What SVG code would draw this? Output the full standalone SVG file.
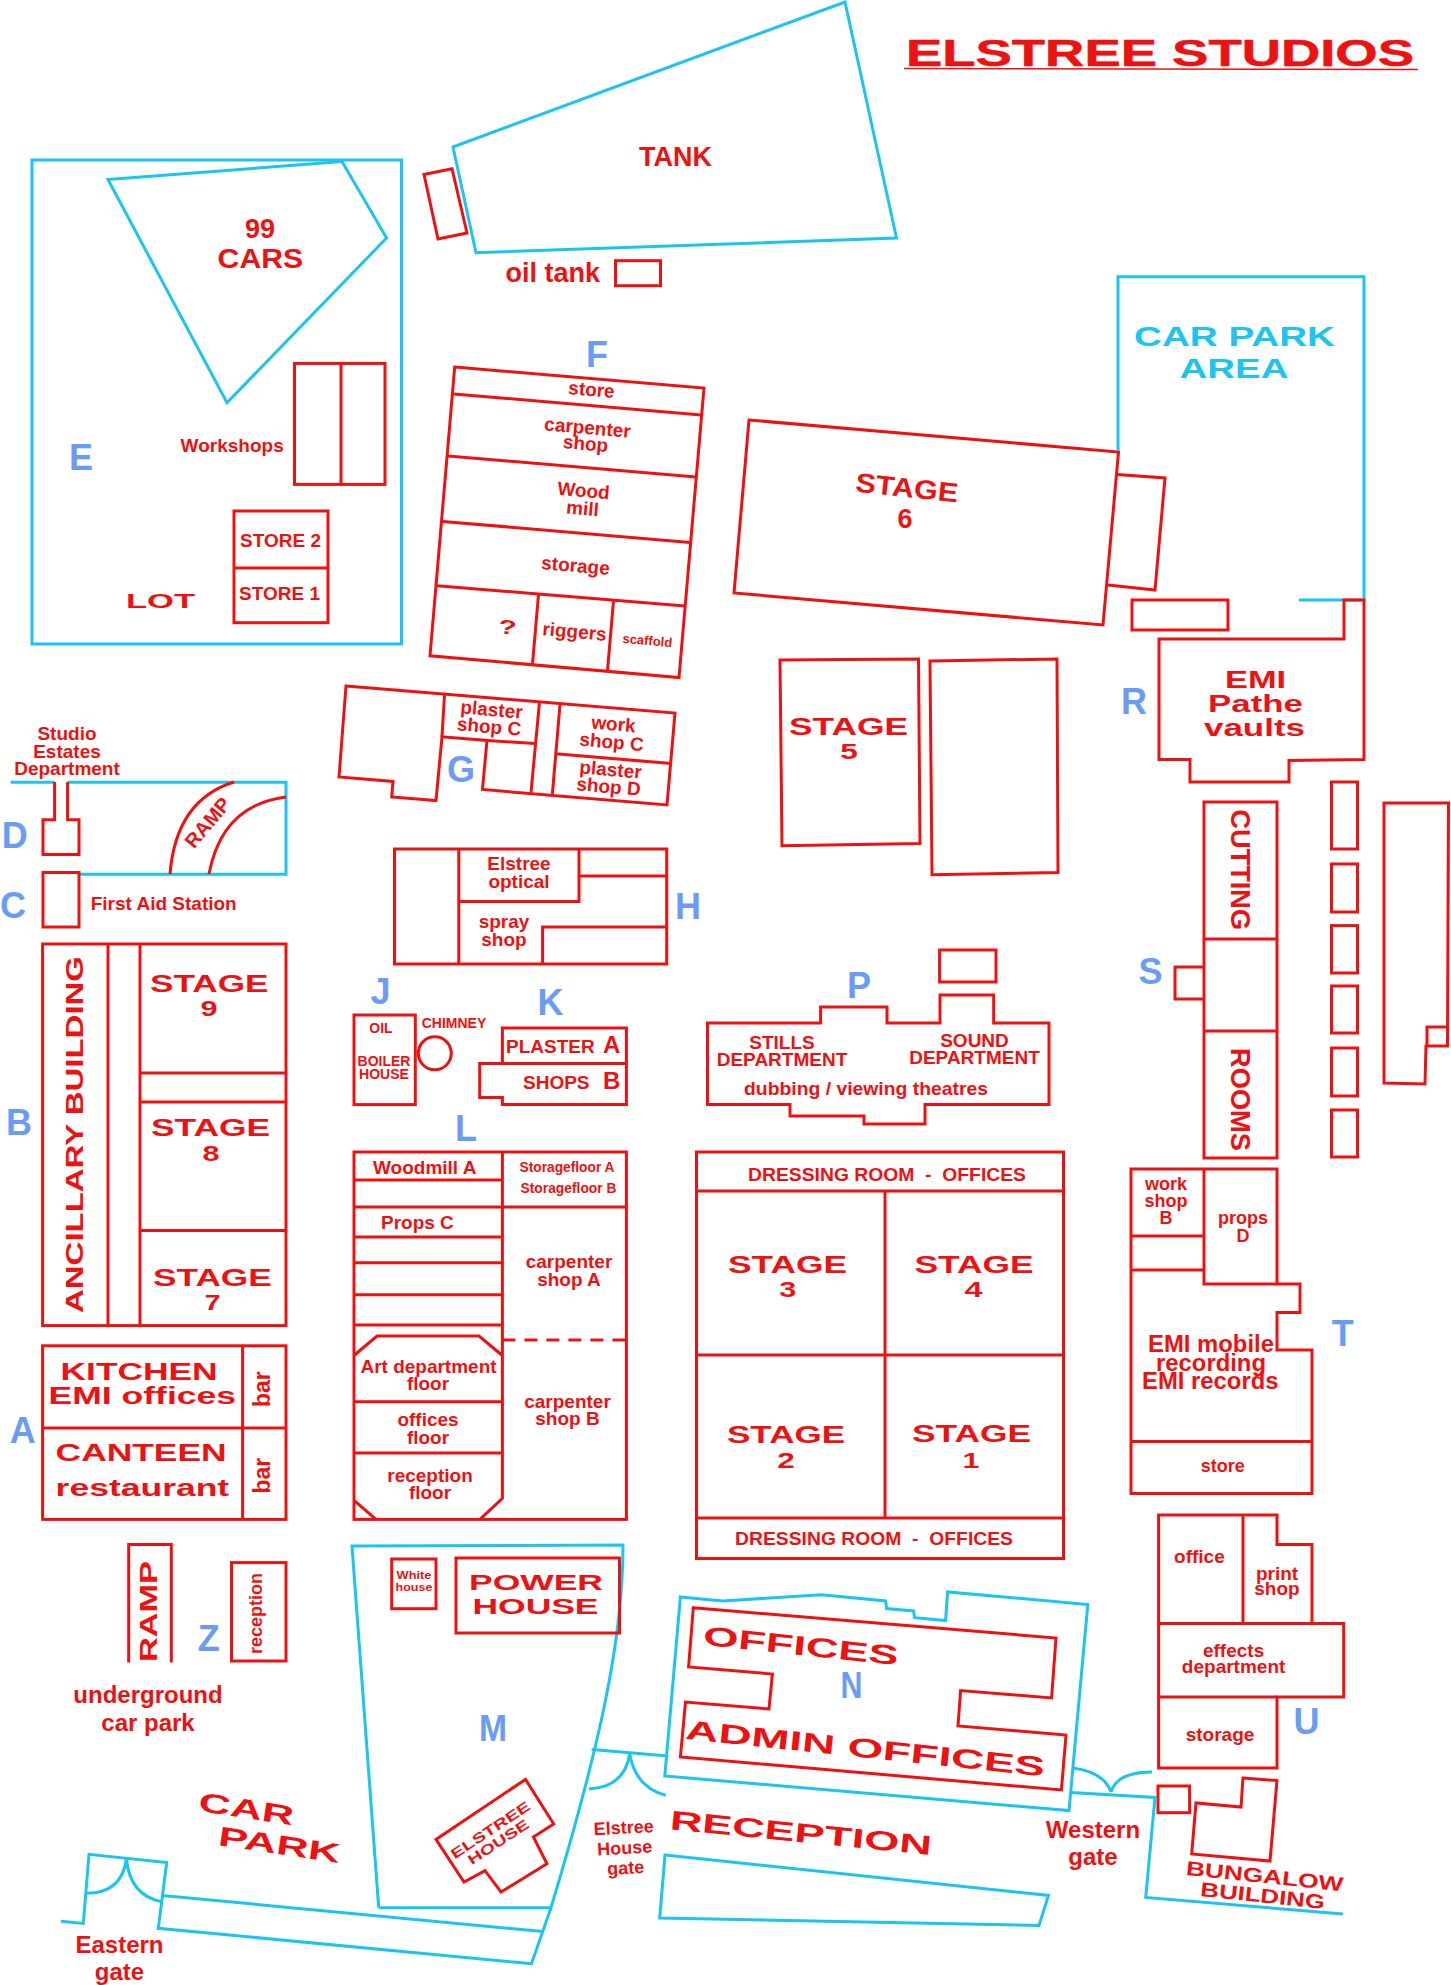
<svg xmlns="http://www.w3.org/2000/svg" width="1451" height="1985" viewBox="0 0 1451 1985">
<style>
.r{fill:none;stroke:#ee1111;stroke-width:3;stroke-linejoin:miter}
.b{fill:none;stroke:#1cc4f0;stroke-width:3;stroke-linejoin:miter}
text{font-family:"Liberation Sans",Arial,sans-serif;font-weight:700;fill:#ee1111}
.m{text-anchor:middle}
.l{fill:#6a9cf5;font-size:36px;text-anchor:middle}
.c{fill:#1cc4f0}
.f13{font-size:13px}.f14{font-size:14px}.f15{font-size:15px}.f18{font-size:18px}.f19{font-size:19px}.f20{font-size:20px}.f22{font-size:22px}.f23{font-size:23px}.f24{font-size:24px}.f27{font-size:27px}
</style>
<rect width="1451" height="1985" fill="#fff"/>
<g id="title">
<text x="906" y="65.6" style="font-size:36px;stroke:#ee1111;stroke-width:.5" textLength="508" lengthAdjust="spacingAndGlyphs">ELSTREE STUDIOS</text>
<line x1="904" y1="68.5" x2="1418" y2="69.5" stroke="#ee1111" stroke-width="1.5"/>
</g>
<g id="E">
<rect class="b" x="32" y="160" width="369.5" height="484"/>
<polygon class="b" points="108,179.5 342,161.6 386.6,238 227,402.7"/>
<text class="f27 m" x="260" y="238">99</text>
<text class="f27" x="217.6" y="268" textLength="85.6" lengthAdjust="spacingAndGlyphs">CARS</text>
<text class="l" x="81" y="469.6">E</text>
<rect class="r" x="294.5" y="363.4" width="90.5" height="121"/><line class="r" x1="341" y1="363.4" x2="341" y2="484.4"/>
<text class="f19" x="180.6" y="452">Workshops</text>
<rect class="r" x="234" y="511" width="94" height="111.7"/><line class="r" x1="234" y1="568" x2="328" y2="568"/>
<text class="f19" x="240" y="547">STORE 2</text>
<text class="f19" x="239" y="600">STORE 1</text>
<text class="f20" x="126" y="608" textLength="69" lengthAdjust="spacingAndGlyphs">LOT</text>
</g>
<g id="tank">
<polygon class="r" points="424,174.5 452,168.7 467,233 438,239"/>
<polygon class="b" points="453,147 845,2 896.5,238 476,252.7"/>
<text class="f27" x="639" y="166">TANK</text>
<text class="f27" x="505.6" y="282">oil tank</text>
<rect class="r" x="615.5" y="260.7" width="45" height="25"/>
</g>
<g id="F">
<polygon class="r" points="454.7,367 704,388 679,677.6 430,655.8"/>
<path class="r" d="M453.7,394L701,415M448,456L696,477M442.6,521.4L690,542.4M437,585.7L685,606M538.5,594.6L532.5,664M613.5,601L607.5,670.5"/>
<text class="l" x="597" y="367">F</text>
<text class="f19 m" x="591" y="396" transform="rotate(5 591 396)">store</text>
<text class="f19 m" x="587" y="434" transform="rotate(5 587 434)">carpenter</text>
<text class="f19 m" x="585" y="450" transform="rotate(5 585 450)">shop</text>
<text class="f19 m" x="583" y="497" transform="rotate(5 583 497)">Wood</text>
<text class="f19 m" x="582" y="515" transform="rotate(5 582 515)">mill</text>
<text class="f19 m" x="575" y="572" transform="rotate(5 575 572)">storage</text>
<text class="f20 m" x="507" y="634" transform="rotate(5 507 634)" textLength="18" lengthAdjust="spacingAndGlyphs">?</text>
<text class="f19 m" x="574" y="638" transform="rotate(5 574 638)">riggers</text>
<text class="f13 m" x="647" y="645" transform="rotate(5 647 645)">scaffold</text>
</g>
<g id="stage6" transform="translate(-1 0)">
<polygon class="r" points="750,420 1119.5,452 1104,625 735,593"/>
<polyline class="r" points="1118,474.5 1166,478 1156,590 1109,585"/>
<text class="f27 m" x="907" y="497" transform="rotate(6 907 497)" textLength="103" lengthAdjust="spacingAndGlyphs">STAGE</text>
<text class="f27 m" x="906" y="528">6</text>
</g>
<g id="carpark-area" transform="translate(-1 0)">
<polyline class="b" points="1119,451 1119,276.8 1365,276.8 1365,600 1300,600"/>
<text class="f27 c" x="1135" y="346.4" textLength="201" lengthAdjust="spacingAndGlyphs">CAR PARK</text>
<text class="f27 c" x="1180.5" y="377.7" textLength="109" lengthAdjust="spacingAndGlyphs">AREA</text>
<rect class="r" x="1133" y="600" width="96" height="30"/>
</g>
<g id="R" transform="translate(-1 0)">
<polygon class="r" points="1345,600 1365,600 1365,759.5 1290,760.4 1290,782 1191,782 1191,759.5 1160,759.5 1160,639 1345,639"/>
<text class="f23" x="1226" y="687.7" textLength="61" lengthAdjust="spacingAndGlyphs">EMI</text>
<text class="f23" x="1209" y="711.8" textLength="95" lengthAdjust="spacingAndGlyphs">Pathe</text>
<text class="f23" x="1205" y="736" textLength="101" lengthAdjust="spacingAndGlyphs">vaults</text>
<text class="l" x="1135" y="713.6">R</text>
</g>
<g id="stage5" transform="translate(-1 0)">
<polygon class="r" points="781,660 919.5,659 921,843.5 783,845.7"/>
<polygon class="r" points="931,661 1058,659 1059,872.5 933,874.7"/>
<text class="f23" x="790" y="734.5" textLength="119" lengthAdjust="spacingAndGlyphs">STAGE</text>
<text class="f22 m" x="850" y="759" textLength="17.5" lengthAdjust="spacingAndGlyphs">5</text>
</g>
<g id="S" transform="translate(-1 0)">
<rect class="r" x="1205" y="802" width="73" height="356"/>
<path class="r" d="M1205,939H1278M1205,1031H1278M1205,967H1176V999H1205"/>
<text class="l" x="1151.5" y="983.6">S</text>
<text class="f27" transform="translate(1232,809.5) rotate(90)" textLength="120.5" lengthAdjust="spacingAndGlyphs">CUTTING</text>
<text class="f27" transform="translate(1232,1048) rotate(90)" textLength="103" lengthAdjust="spacingAndGlyphs">ROOMS</text>
</g>
<g id="east-blocks" transform="translate(-1 0)">
<rect class="r" x="1332.5" y="782" width="26" height="67"/>
<rect class="r" x="1332.5" y="864" width="26" height="48"/>
<rect class="r" x="1332.5" y="925.6" width="26" height="47.4"/>
<rect class="r" x="1332.5" y="986" width="26" height="47"/>
<rect class="r" x="1332.5" y="1048" width="26" height="48"/>
<rect class="r" x="1332.5" y="1110" width="26" height="47"/>
<polygon class="r" points="1385,803 1449.5,803 1448.5,1046 1427,1046 1426,1084 1385,1083"/>
<polyline class="r" points="1428,1046 1428,1027 1448.5,1027"/>
</g>
<g id="P" transform="translate(-1 0)">
<polygon class="r" points="708.5,1023 821.6,1023 821.6,1007 888,1007 888,1023 941,1023 941,995 994.7,995 994.7,1023 1050,1023 1050,1104.6 926,1104.6 926,1124 865,1124 865,1116 791,1116 791,1104.6 708.5,1104.6"/>
<rect class="r" x="940.6" y="950" width="56.4" height="32"/>
<text class="l" x="860" y="998">P</text>
<text class="f19 m" x="783" y="1049">STILLS</text>
<text class="f19 m" x="783" y="1066">DEPARTMENT</text>
<text class="f19 m" x="975.5" y="1046.6">SOUND</text>
<text class="f19 m" x="975.5" y="1063.5">DEPARTMENT</text>
<text class="f19" x="745" y="1095" textLength="244" lengthAdjust="spacingAndGlyphs">dubbing / viewing theatres</text>
</g>
<g id="stages1-4" transform="translate(-1 0)">
<rect class="r" x="697.5" y="1152" width="367" height="406.5"/>
<path class="r" d="M697.5,1191H1064.5M697.5,1355H1064.5M697.5,1518H1064.5M886,1191V1518"/>
<text class="f19" x="749" y="1181" textLength="278" lengthAdjust="spacingAndGlyphs" xml:space="preserve">DRESSING ROOM  -  OFFICES</text>
<text class="f19" x="736" y="1545" textLength="278" lengthAdjust="spacingAndGlyphs" xml:space="preserve">DRESSING ROOM  -  OFFICES</text>
<text class="f23" x="729" y="1273" textLength="119" lengthAdjust="spacingAndGlyphs">STAGE</text>
<text class="f22 m" x="788.7" y="1297" textLength="17" lengthAdjust="spacingAndGlyphs">3</text>
<text class="f23" x="915.5" y="1273" textLength="119" lengthAdjust="spacingAndGlyphs">STAGE</text>
<text class="f22 m" x="974.5" y="1297" textLength="18" lengthAdjust="spacingAndGlyphs">4</text>
<text class="f23" x="728" y="1443" textLength="118" lengthAdjust="spacingAndGlyphs">STAGE</text>
<text class="f22 m" x="787" y="1468" textLength="17.5" lengthAdjust="spacingAndGlyphs">2</text>
<text class="f23" x="913" y="1442" textLength="119" lengthAdjust="spacingAndGlyphs">STAGE</text>
<text class="f22 m" x="972" y="1467.5" textLength="17" lengthAdjust="spacingAndGlyphs">1</text>
</g>
<g id="T" transform="translate(-1 0)">
<polygon class="r" points="1132,1169 1278,1169 1278,1284 1301,1284 1301,1312.6 1278,1312.6 1278,1350 1313,1350 1313,1493.5 1132,1493.5"/>
<path class="r" d="M1132,1441.6H1313M1132,1236H1205M1132,1270H1205M1205,1169V1284H1278"/>
<text class="l" x="1343.8" y="1346">T</text>
<text class="f18 m" x="1167" y="1190">work</text>
<text class="f18 m" x="1167" y="1207">shop</text>
<text class="f18 m" x="1167" y="1224">B</text>
<text class="f18 m" x="1244" y="1224">props</text>
<text class="f18 m" x="1244" y="1242">D</text>
<text class="f23" x="1149" y="1351.5" textLength="126" lengthAdjust="spacingAndGlyphs">EMI mobile</text>
<text class="f23" x="1157" y="1371" textLength="110" lengthAdjust="spacingAndGlyphs">recording</text>
<text class="f23" x="1143" y="1389" textLength="136.5" lengthAdjust="spacingAndGlyphs">EMI records</text>
<text class="f18 m" x="1223.7" y="1472">store</text>
</g>
<g id="U" transform="translate(-1 0)">
<polygon class="r" points="1159.6,1515 1278,1515 1278,1544.5 1313,1544.5 1313,1623.5 1344.7,1623.5 1344.7,1697 1278,1697 1278,1768 1159.6,1768"/>
<path class="r" d="M1244,1515V1623.5M1159.6,1623.5H1313M1159.6,1697H1278"/>
<text class="l" x="1307.4" y="1734">U</text>
<text class="f19 m" x="1200.4" y="1563.4">office</text>
<text class="f19 m" x="1278" y="1580">print</text>
<text class="f19 m" x="1278" y="1595">shop</text>
<text class="f19 m" x="1234.6" y="1657">effects</text>
<text class="f19 m" x="1234.6" y="1673">department</text>
<text class="f19 m" x="1221" y="1741">storage</text>
</g>
<g id="bungalow" transform="translate(-1 0)">
<rect class="r" x="1159" y="1786" width="31.6" height="26.7"/>
<polygon class="r" points="1244,1778 1278,1780.6 1271,1861 1192.7,1854 1197,1803 1242,1807"/>
<polyline class="b" points="1071.7,1792.5 1156,1797.5 1146.7,1897.5 1344,1914"/>
<path class="b" d="M1074,1768Q1105,1772 1112,1792M1112,1792Q1118,1772 1153,1772"/>
<text class="f20 m" x="1265" y="1883" transform="rotate(6 1265 1883)" textLength="158" lengthAdjust="spacingAndGlyphs">BUNGALOW</text>
<text class="f20 m" x="1263" y="1902.5" transform="rotate(6 1263 1902.5)" textLength="125" lengthAdjust="spacingAndGlyphs">BUILDING</text>
<text class="f24 m" x="1094" y="1838">Western</text>
<text class="f24 m" x="1094" y="1864.5">gate</text>
</g>
<g id="N" transform="translate(-1 0)">
<polygon class="b" points="681.4,1597 724,1601 822.5,1594.7 886.6,1601 887.6,1608.6 914.5,1611 915.6,1617.7 946.6,1620.6 948.6,1592 1088.8,1604.5 1070,1810.6 665.8,1776"/>
<polygon class="r" points="694.3,1607.8 1057,1638 1052.6,1698 961.6,1690.5 959,1726 1067,1735 1062.4,1790 681.4,1757 686.5,1702 770,1709 773.4,1674 689.6,1667"/>
<text class="f27 m" x="801" y="1655" transform="rotate(6 801 1655)" textLength="196" lengthAdjust="spacingAndGlyphs">OFFICES</text>
<text class="f27 m" x="865.4" y="1757.6" transform="rotate(6 865.4 1757.6)" textLength="361" lengthAdjust="spacingAndGlyphs">ADMIN OFFICES</text>
<text class="l" x="852.5" y="1698" textLength="22" lengthAdjust="spacingAndGlyphs">N</text>
</g>
<g id="reception">
<polygon class="b" points="665,1855 1048.5,1895.4 1039,1925.4 659.7,1918"/>
<text class="f27 m" x="800" y="1842" transform="rotate(5.6 800 1842)" textLength="263" lengthAdjust="spacingAndGlyphs">RECEPTION</text>
<text class="f18 m" x="624" y="1833.7" transform="rotate(-3 624 1833.7)">Elstree</text>
<text class="f18 m" x="625" y="1854" transform="rotate(-3 625 1854)">House</text>
<text class="f18 m" x="626" y="1874" transform="rotate(-3 626 1874)">gate</text>
<line class="b" x1="591.7" y1="1749.4" x2="668" y2="1756"/>
<path class="b" d="M589,1789Q625,1787 629.7,1753.5M629.7,1753.5Q635,1787 665.8,1795.4"/>
</g>
<g id="A">
<rect class="r" x="42.6" y="1345.8" width="243.4" height="173.6"/>
<path class="r" d="M42.6,1428H286M242.6,1345.8V1519.4"/>
<text class="l" x="22.7" y="1443">A</text>
<text class="f23" x="60.6" y="1380" textLength="157" lengthAdjust="spacingAndGlyphs">KITCHEN</text>
<text class="f23" x="48.6" y="1404" textLength="187.5" lengthAdjust="spacingAndGlyphs">EMI offices</text>
<text class="f23" x="55.6" y="1461" textLength="171" lengthAdjust="spacingAndGlyphs">CANTEEN</text>
<text class="f23" x="55.6" y="1496" textLength="173.6" lengthAdjust="spacingAndGlyphs">restaurant</text>
<text class="f23" transform="translate(270,1407) rotate(-90)">bar</text>
<text class="f23" transform="translate(270,1493.5) rotate(-90)">bar</text>
</g>
<g id="Z">
<polyline class="r" points="128.7,1662.5 128.7,1544.5 171.3,1544.5 171.3,1662.5"/>
<text class="f24" transform="translate(157.4,1662) rotate(-90)" textLength="101" lengthAdjust="spacingAndGlyphs">RAMP</text>
<rect class="r" x="231.5" y="1562.6" width="54.5" height="98.4"/>
<text class="f18 m" transform="translate(262,1613.5) rotate(-90)">reception</text>
<text class="l" x="208.7" y="1651.4">Z</text>
<text class="f24 m" x="148" y="1703">underground</text>
<text class="f24 m" x="148" y="1731">car park</text>
</g>
<g id="M">
<path class="b" d="M378.7,1907.7L352,1546L623,1545C623,1640 600,1745 551,1907.7L531.5,1963.7L158.3,1928.3L166.7,1862.5L89,1854.3L83.3,1923.4L61,1921.3M378.7,1907.7H551M162,1895.4L543,1931.6"/>
<path class="b" d="M126.4,1859Q122,1893 86.6,1893.3M126.4,1859Q130,1895 161,1901.6"/>
<rect class="r" x="391.7" y="1559" width="44.3" height="49.7"/>
<text class="f13 m" x="414" y="1579.4" style="font-size:11px" textLength="35" lengthAdjust="spacingAndGlyphs">White</text>
<text class="f13 m" x="414" y="1590.5" style="font-size:11px" textLength="37" lengthAdjust="spacingAndGlyphs">house</text>
<rect class="r" x="456" y="1558" width="163.5" height="75"/>
<text class="f22" x="469" y="1589.7" textLength="134" lengthAdjust="spacingAndGlyphs">POWER</text>
<text class="f22" x="472.5" y="1613.6" textLength="126" lengthAdjust="spacingAndGlyphs">HOUSE</text>
<text class="l" x="493" y="1741" textLength="28" lengthAdjust="spacingAndGlyphs">M</text>
<polygon class="r" points="525.5,1779.4 553.7,1824 533.4,1837 547,1863.7 501,1892 485,1870.7 464,1882 436,1839.4"/>
<text class="f14 m" x="493" y="1834" transform="rotate(-33.6 493 1834)" textLength="92" lengthAdjust="spacingAndGlyphs">ELSTREE</text>
<text class="f14 m" x="501" y="1846" transform="rotate(-33.6 501 1846)" textLength="70" lengthAdjust="spacingAndGlyphs">HOUSE</text>
<text class="f27 m" x="245" y="1818" transform="rotate(8.7 245 1818)" textLength="96" lengthAdjust="spacingAndGlyphs">CAR</text>
<text class="f27 m" x="278" y="1854" transform="rotate(8.5 278 1854)" textLength="123" lengthAdjust="spacingAndGlyphs">PARK</text>
<text class="f24 m" x="119.5" y="1953">Eastern</text>
<text class="f24 m" x="119.5" y="1980">gate</text>
</g>
<g id="L">
<rect class="r" x="354" y="1152" width="272.4" height="367.4"/>
<path class="r" d="M502.4,1152V1498.4L480,1519.4M354,1180H502.4M354,1207H626.4M354,1237H502.4M354,1262.7H502.4M354,1294.8H502.4M354,1325H502.4M354,1355.5L377,1336H479L502.4,1355.5M354,1401.7H502.4M354,1453H502.4M354,1500.4L376,1519.4"/>
<line class="r" x1="502.4" y1="1340" x2="626.4" y2="1340" stroke-dasharray="13 9"/>
<text class="l" x="466" y="1140.8">L</text>
<text class="f19" x="373" y="1174">Woodmill A</text>
<text class="f14" x="519.5" y="1172" textLength="95" lengthAdjust="spacingAndGlyphs">Storagefloor A</text>
<text class="f14" x="520.5" y="1193" textLength="96" lengthAdjust="spacingAndGlyphs">Storagefloor B</text>
<text class="f19" x="381" y="1229">Props C</text>
<text class="f19 m" x="569" y="1268">carpenter</text>
<text class="f19 m" x="569" y="1286">shop A</text>
<text class="f19 m" x="567.5" y="1408">carpenter</text>
<text class="f19 m" x="567.5" y="1424.5">shop B</text>
<text class="f19 m" x="428.5" y="1373">Art department</text>
<text class="f19 m" x="428" y="1390">floor</text>
<text class="f19 m" x="428" y="1426.4">offices</text>
<text class="f19 m" x="428" y="1444">floor</text>
<text class="f19 m" x="430" y="1482">reception</text>
<text class="f19 m" x="430" y="1499">floor</text>
</g>
<g id="J">
<text class="l" x="380.6" y="1004">J</text>
<rect class="r" x="354" y="1015" width="61.3" height="89.6"/>
<text class="f14 m" x="381" y="1033">OIL</text>
<text class="f14 m" x="384" y="1065.5">BOILER</text>
<text class="f14 m" x="384" y="1079">HOUSE</text>
<text class="f14 m" x="454" y="1028">CHIMNEY</text>
<circle class="r" cx="434.8" cy="1053.3" r="16.5"/>
</g>
<g id="K">
<polygon class="r" points="502.4,1028 626.4,1028 626.4,1104.6 502.4,1104.6 502.4,1097.5 479.7,1097.5 479.7,1063.6 502.4,1063.6"/>
<path class="r" d="M479.7,1063.6H626.4"/>
<text class="l" x="550.5" y="1015">K</text>
<text class="f19" x="506" y="1053">PLASTER</text>
<text class="f24" x="603" y="1053">A</text>
<text class="f19" x="523" y="1088.5">SHOPS</text>
<text class="f24" x="603" y="1089">B</text>
</g>
<g id="H">
<rect class="r" x="394.5" y="849" width="272.2" height="115"/>
<path class="r" d="M458.8,849V964M458.8,901.5H579V849M579,876H666.7M542.6,964V927H666.7"/>
<text class="l" x="688" y="919">H</text>
<text class="f19 m" x="519" y="870">Elstree</text>
<text class="f19 m" x="519" y="888">optical</text>
<text class="f19 m" x="504" y="928">spray</text>
<text class="f19 m" x="504" y="945.7">shop</text>
</g>
<g id="G">
<polygon class="r" points="346,686 675,713 667,805 482.5,789.5 487,740.4 442,736.8 436,800.6 391.7,797 393,781.4 339,777"/>
<path class="r" d="M444.5,695L442,736.8M487,740.4L534.8,743.5M539.4,703L531,792.6M560,704.6L552.4,794M555.6,753.7L671.4,763.6"/>
<text class="l" x="461" y="782">G</text>
<text class="f19 m" x="491" y="716" transform="rotate(5 491 716)">plaster</text>
<text class="f19 m" x="488.5" y="733" transform="rotate(5 488.5 733)">shop C</text>
<text class="f19 m" x="613" y="730.5" transform="rotate(5 613 730.5)">work</text>
<text class="f19 m" x="611" y="748.4" transform="rotate(5 611 748.4)">shop C</text>
<text class="f19 m" x="610" y="776" transform="rotate(5 610 776)">plaster</text>
<text class="f19 m" x="608" y="793" transform="rotate(5 608 793)">shop D</text>
</g>
<g id="D">
<path class="b" d="M10.6,782.3H54.6M67.6,782.3H286V874.3H80"/>
<polyline class="r" points="54.6,782 54.6,819.8 43,819.8 43,854.6 79,854.6 79,819.8 67.6,819.8 67.6,782"/>
<path class="r" d="M234,782Q176,800 170,874M286,797Q222,805 209,874"/>
<text class="f20 m" x="213" y="827" transform="rotate(-50 213 827)">RAMP</text>
<text class="l" x="14.8" y="848.4">D</text>
<text class="f19 m" x="67" y="739.5">Studio</text>
<text class="f19 m" x="67" y="758">Estates</text>
<text class="f19 m" x="67" y="775">Department</text>
</g>
<g id="C">
<rect class="r" x="43" y="872.5" width="36" height="54.5"/>
<text class="l" x="13" y="918">C</text>
<text class="f19" x="90.7" y="910.4">First Aid Station</text>
</g>
<g id="B">
<rect class="r" x="42.6" y="944" width="243.4" height="381.6"/>
<path class="r" d="M108,944V1325.6M140,944V1325.6M140,1073H286M140,1102H286M140,1230.5H286"/>
<text class="l" x="19" y="1135.4">B</text>
<text class="f23" transform="translate(83.3,1313) rotate(-90)" textLength="357" lengthAdjust="spacingAndGlyphs">ANCILLARY BUILDING</text>
<text class="f23" x="150" y="992" textLength="118.5" lengthAdjust="spacingAndGlyphs">STAGE</text>
<text class="f22 m" x="209" y="1016" textLength="17" lengthAdjust="spacingAndGlyphs">9</text>
<text class="f23" x="151" y="1136" textLength="119" lengthAdjust="spacingAndGlyphs">STAGE</text>
<text class="f22 m" x="211" y="1161" textLength="17" lengthAdjust="spacingAndGlyphs">8</text>
<text class="f23" x="153" y="1286" textLength="118.7" lengthAdjust="spacingAndGlyphs">STAGE</text>
<text class="f22 m" x="212.5" y="1309.5" textLength="16" lengthAdjust="spacingAndGlyphs">7</text>
</g>
</svg>
